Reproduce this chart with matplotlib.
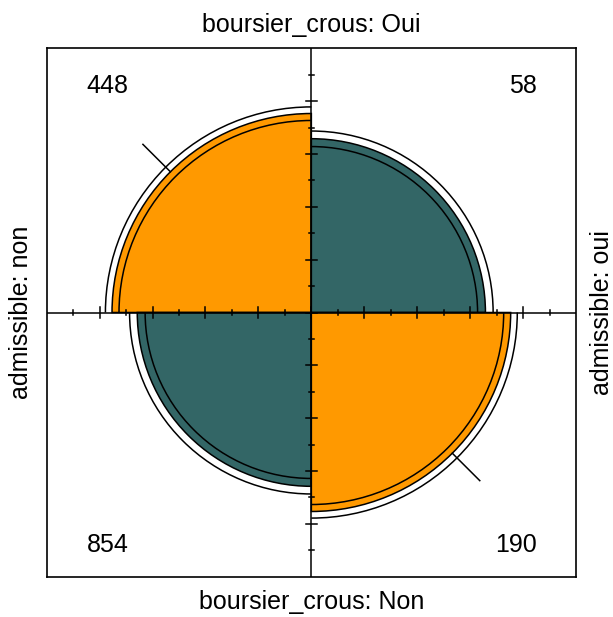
import numpy as np
import matplotlib
matplotlib.use("Agg")
import matplotlib.pyplot as plt
from matplotlib.patches import Wedge, Arc

# rows: boursier_crous (Oui, Non), columns: admissible (non, oui)
row_var = "boursier_crous"
row_levels = ["Oui", "Non"]
col_var = "admissible"
col_levels = ["non", "oui"]
counts = np.array([[448, 58],
                   [854, 190]])

colors = ["#FF9900", "#336666"]
conf_level = 0.95

plt.rcParams['font.family'] = ['Liberation Sans', 'DejaVu Sans']


def standardize(odds):
    # 2x2 table with all margins equal to 1 and the given odds ratio
    s = np.sqrt(odds)
    a = s / (1 + s)
    return np.array([[a, 1 - a], [1 - a, a]])


def radii(odds):
    return np.sqrt(standardize(odds))


a, b = counts[0]
c, d = counts[1]
odds = (a * d) / (b * c)
se = np.sqrt((1.0 / counts).sum())
z = 1.959964
lo = np.exp(np.log(odds) - z * se)
hi = np.exp(np.log(odds) + z * se)

r_fit = radii(odds)
r_lo = radii(lo)
r_hi = radii(hi)

W, H = 613, 617
fig = plt.figure(figsize=(W / 100, H / 100), dpi=100)
left, right, top, bottom = 46.7, 576.0, 48.3, 576.7
ax = fig.add_axes([left / W, (H - bottom) / H, (right - left) / W, (bottom - top) / H])
ax.set_xlim(-1, 1)
ax.set_ylim(-1, 1)
ax.set_xticks([])
ax.set_yticks([])
for s in ax.spines.values():
    s.set_linewidth(1.2)

# quadrant angles: top-left, top-right, bottom-left, bottom-right
angles = {(0, 0): (90, 180), (0, 1): (0, 90), (1, 0): (180, 270), (1, 1): (270, 360)}

for (i, j), (t1, t2) in angles.items():
    col = colors[0] if i == j else colors[1]
    ax.add_patch(Wedge((0, 0), r_fit[i, j], t1, t2, facecolor=col,
                       edgecolor="black", linewidth=1.1, zorder=2))
    for r in (r_lo[i, j], r_hi[i, j]):
        ax.add_patch(Arc((0, 0), 2 * r, 2 * r, theta1=t1, theta2=t2,
                         color="black", linewidth=1.1, zorder=3))

# diagonal markers on the orange quadrants
for (i, j), ang in [((0, 0), 135), ((1, 1), 315)]:
    t = np.deg2rad(ang)
    r0 = r_fit[i, j]
    ax.plot([r0 * np.cos(t), 0.9 * np.cos(t)], [r0 * np.sin(t), 0.9 * np.sin(t)],
            color="black", linewidth=1.1, zorder=3)

# axis lines and ticks
ax.plot([-1, 1], [0, 0], color="black", linewidth=1.1, zorder=4)
ax.plot([0, 0], [-1, 1], color="black", linewidth=1.1, zorder=4)
for v in np.arange(-0.8, 0.81, 0.2):
    ax.plot([v, v], [-0.02, 0.02], color="black", linewidth=1.1, zorder=4)
    ax.plot([-0.02, 0.02], [v, v], color="black", linewidth=1.1, zorder=4)
for v in np.arange(-0.9, 0.91, 0.2):
    ax.plot([v, v], [-0.01, 0.01], color="black", linewidth=1.1, zorder=4)
    ax.plot([-0.01, 0.01], [v, v], color="black", linewidth=1.1, zorder=4)

# counts in the corners
fs = 18
ax.text(-0.85, 0.83, str(counts[0, 0]), ha="left", va="baseline", fontsize=fs)
ax.text(0.853, 0.83, str(counts[0, 1]), ha="right", va="baseline", fontsize=fs)
ax.text(-0.85, -0.908, str(counts[1, 0]), ha="left", va="baseline", fontsize=fs)
ax.text(0.853, -0.908, str(counts[1, 1]), ha="right", va="baseline", fontsize=fs)

# margin labels
ax.text(0, 1.063, f"{row_var}: {row_levels[0]}", ha="center", va="baseline",
        fontsize=fs, clip_on=False)
ax.text(0, -1.124, f"{row_var}: {row_levels[1]}", ha="center", va="baseline",
        fontsize=fs, clip_on=False)
ax.text(-1.071, 0, f"{col_var}: {col_levels[0]}", ha="center", va="baseline",
        rotation=90, rotation_mode="anchor", fontsize=fs, clip_on=False)
ax.text(1.126, 0, f"{col_var}: {col_levels[1]}", ha="center", va="baseline",
        rotation=90, rotation_mode="anchor", fontsize=fs, clip_on=False)

fig.savefig("out.png", dpi=100)
